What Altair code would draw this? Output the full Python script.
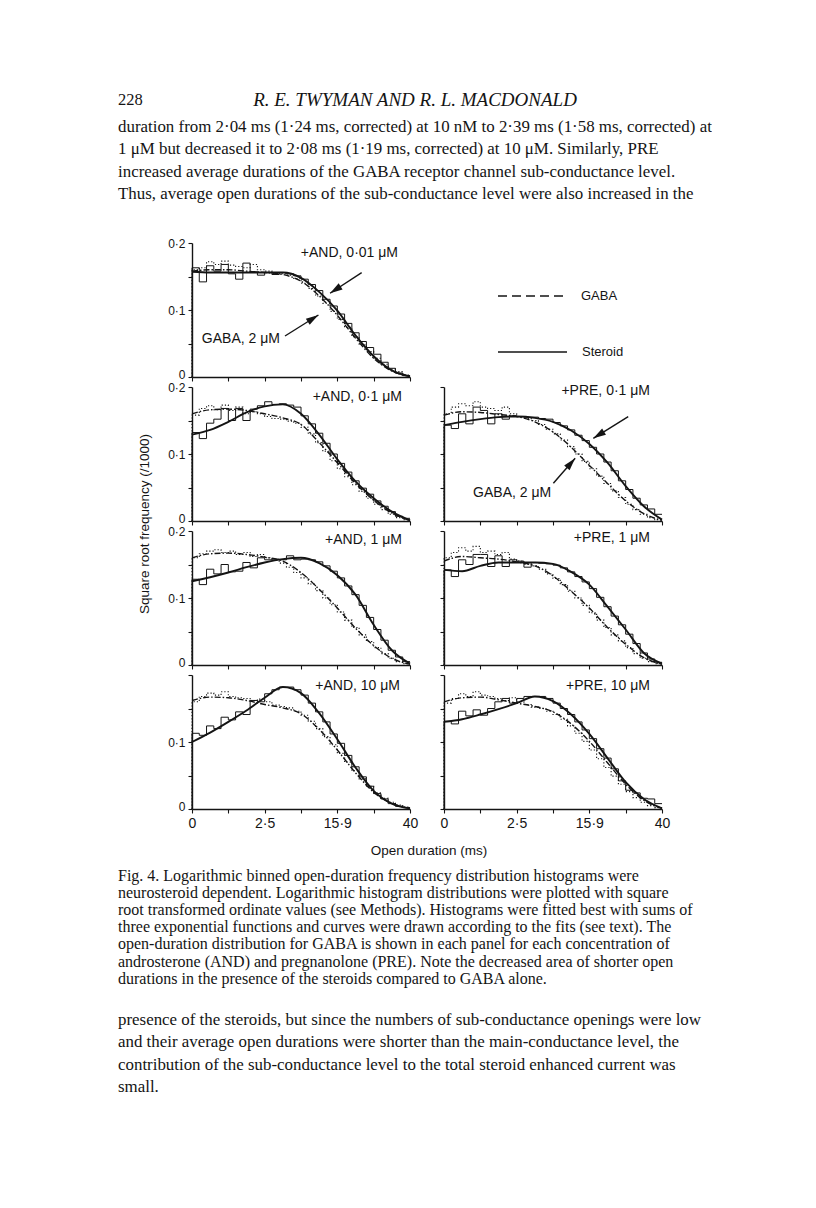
import math
import altair as alt
import pandas as pd

INK = "#141414"
SANS = "Liberation Sans"
SERIF = "Liberation Serif"

# ---------------- axis / bin positions (log-bin index units) ----------------
X_MAX = 6.0
X_TICKS = [0, 1, 2, 3, 4, 5, 6]
X_TICK_LABELS = ["0", "", "2·5", "", "15·9", "", "40"]
Y_TICKS = [0, 0.05, 0.1, 0.15, 0.2]
Y_TICK_LABELS = ["0", "", "0·1", "", "0·2"]
Y_TICK_LABELS_LAST = ["0", "", "0·1", "", ""]

U_FIT = [0, 0.5, 1, 1.5, 2, 2.5, 3, 3.5, 4, 4.5, 5, 5.5, 6]
BIN_LEFT = [0.0, 0.2, 0.4, 0.6, 0.8, 1.0, 1.2, 1.4, 1.6, 1.8,
            2.0, 2.2, 2.4, 2.6, 2.8, 3.0, 3.2, 3.4, 3.6, 3.8,
            4.0, 4.2, 4.4, 4.6, 4.8, 5.0, 5.2, 5.4, 5.6, 5.8]

# ---------------- +AND 0.01 uM ----------------
A1_STER_FIT = [0.157, 0.156, 0.156, 0.156, 0.156, 0.156, 0.148, 0.127, 0.099, 0.062, 0.031, 0.010, 0.001]
A1_GABA_FIT = [0.158, 0.160, 0.160, 0.158, 0.156, 0.153, 0.143, 0.121, 0.092, 0.058, 0.028, 0.009, 0.001]
A1_STER_HIST = [0.163, 0.142, 0.166, 0.158, 0.168, 0.154, 0.146, 0.170, 0.157, 0.152,
                0.156, 0.153, 0.156, 0.154, 0.151, 0.146, 0.138, 0.129, 0.116, 0.106,
                0.094, 0.080, 0.066, 0.053, 0.044, 0.034, 0.022, 0.013, 0.006, 0.002]
A1_GABA_HIST = [0.160, 0.163, 0.172, 0.168, 0.173, 0.167, 0.165, 0.163, 0.168, 0.160,
                0.158, 0.155, 0.154, 0.152, 0.147, 0.140, 0.132, 0.121, 0.110, 0.098,
                0.086, 0.074, 0.060, 0.048, 0.038, 0.028, 0.019, 0.012, 0.008, 0.003]

# ---------------- +AND 0.1 uM ----------------
A2_STER_FIT = [0.129, 0.136, 0.148, 0.162, 0.171, 0.174, 0.160, 0.129, 0.092, 0.059, 0.034, 0.014, 0.001]
A2_GABA_FIT = [0.160, 0.166, 0.167, 0.165, 0.160, 0.154, 0.144, 0.117, 0.087, 0.056, 0.031, 0.012, 0.001]
A2_STER_HIST = [0.132, 0.123, 0.146, 0.152, 0.168, 0.150, 0.168, 0.150, 0.167, 0.172,
                0.178, 0.174, 0.175, 0.173, 0.170, 0.157, 0.145, 0.131, 0.116, 0.100,
                0.086, 0.073, 0.060, 0.049, 0.040, 0.030, 0.022, 0.014, 0.007, 0.004]
A2_GABA_HIST = [0.158, 0.168, 0.172, 0.166, 0.173, 0.165, 0.170, 0.160, 0.163, 0.160,
                0.156, 0.153, 0.152, 0.149, 0.146, 0.140, 0.130, 0.117, 0.104, 0.090,
                0.078, 0.066, 0.054, 0.044, 0.034, 0.025, 0.017, 0.010, 0.005, 0.002]

# ---------------- +AND 1 uM ----------------
A3_STER_FIT = [0.125, 0.131, 0.138, 0.146, 0.153, 0.158, 0.160, 0.152, 0.134, 0.105, 0.060, 0.022, 0.002]
A3_GABA_FIT = [0.160, 0.166, 0.167, 0.165, 0.161, 0.155, 0.138, 0.113, 0.085, 0.055, 0.029, 0.010, 0.001]
A3_STER_HIST = [0.128, 0.120, 0.143, 0.136, 0.150, 0.139, 0.140, 0.153, 0.145, 0.160,
                0.157, 0.158, 0.157, 0.163, 0.157, 0.158, 0.157, 0.154, 0.148, 0.140,
                0.130, 0.118, 0.105, 0.089, 0.071, 0.053, 0.037, 0.022, 0.012, 0.005]
A3_GABA_HIST = [0.160, 0.166, 0.170, 0.172, 0.168, 0.170, 0.165, 0.168, 0.162, 0.165,
                0.160, 0.156, 0.152, 0.146, 0.138, 0.130, 0.121, 0.111, 0.100, 0.090,
                0.079, 0.067, 0.056, 0.045, 0.035, 0.026, 0.017, 0.010, 0.005, 0.002]

# ---------------- +AND 10 uM ----------------
A4_STER_FIT = [0.100, 0.114, 0.130, 0.147, 0.166, 0.182, 0.173, 0.143, 0.104, 0.062, 0.027, 0.008, 0.001]
A4_GABA_FIT = [0.162, 0.167, 0.166, 0.162, 0.156, 0.151, 0.142, 0.119, 0.088, 0.054, 0.025, 0.008, 0.001]
A4_STER_HIST = [0.113, 0.110, 0.124, 0.120, 0.137, 0.133, 0.145, 0.141, 0.162, 0.160,
                0.172, 0.178, 0.182, 0.182, 0.178, 0.170, 0.158, 0.145, 0.130, 0.112,
                0.098, 0.080, 0.063, 0.048, 0.034, 0.023, 0.015, 0.008, 0.004, 0.002]
A4_GABA_HIST = [0.160, 0.168, 0.173, 0.170, 0.175, 0.168, 0.166, 0.165, 0.162, 0.164,
                0.160, 0.155, 0.153, 0.151, 0.146, 0.140, 0.131, 0.120, 0.108, 0.096,
                0.083, 0.070, 0.057, 0.045, 0.034, 0.024, 0.016, 0.010, 0.006, 0.003]

# ---------------- +PRE 0.1 uM ----------------
P2_STER_FIT = [0.143, 0.148, 0.152, 0.155, 0.156, 0.154, 0.148, 0.135, 0.115, 0.087, 0.052, 0.022, 0.002]
P2_GABA_FIT = [0.158, 0.163, 0.162, 0.159, 0.156, 0.148, 0.133, 0.110, 0.083, 0.056, 0.030, 0.011, 0.001]
P2_STER_HIST = [0.143, 0.138, 0.160, 0.145, 0.170, 0.165, 0.145, 0.160, 0.152, 0.157,
                0.156, 0.155, 0.155, 0.153, 0.152, 0.147, 0.142, 0.136, 0.128, 0.120,
                0.110, 0.100, 0.088, 0.075, 0.060, 0.047, 0.034, 0.024, 0.018, 0.010]
P2_GABA_HIST = [0.160, 0.170, 0.175, 0.172, 0.178, 0.170, 0.168, 0.165, 0.170, 0.160,
                0.156, 0.153, 0.150, 0.144, 0.137, 0.130, 0.121, 0.111, 0.100, 0.089,
                0.078, 0.067, 0.056, 0.045, 0.035, 0.025, 0.017, 0.010, 0.005, 0.002]

# ---------------- +PRE 1 uM ----------------
P3_STER_FIT = [0.142, 0.140, 0.148, 0.153, 0.153, 0.153, 0.151, 0.139, 0.120, 0.087, 0.053, 0.018, 0.002]
P3_GABA_FIT = [0.155, 0.162, 0.160, 0.158, 0.154, 0.148, 0.133, 0.110, 0.085, 0.056, 0.031, 0.011, 0.001]
P3_STER_HIST = [0.142, 0.132, 0.157, 0.150, 0.165, 0.165, 0.147, 0.163, 0.147, 0.157,
                0.155, 0.146, 0.153, 0.152, 0.151, 0.149, 0.145, 0.139, 0.132, 0.124,
                0.114, 0.101, 0.087, 0.073, 0.060, 0.046, 0.032, 0.018, 0.009, 0.004]
P3_GABA_HIST = [0.160, 0.168, 0.175, 0.170, 0.177, 0.168, 0.170, 0.165, 0.168, 0.158,
                0.155, 0.150, 0.148, 0.143, 0.136, 0.129, 0.120, 0.110, 0.100, 0.089,
                0.078, 0.067, 0.056, 0.045, 0.036, 0.026, 0.017, 0.010, 0.005, 0.002]

# ---------------- +PRE 10 uM ----------------
P4_STER_FIT = [0.130, 0.134, 0.141, 0.149, 0.158, 0.168, 0.161, 0.141, 0.112, 0.076, 0.040, 0.015, 0.001]
P4_GABA_FIT = [0.160, 0.166, 0.167, 0.163, 0.158, 0.153, 0.145, 0.127, 0.101, 0.069, 0.037, 0.013, 0.001]
P4_STER_HIST = [0.131, 0.127, 0.146, 0.139, 0.148, 0.140, 0.150, 0.160, 0.165, 0.158,
                0.165, 0.168, 0.168, 0.168, 0.165, 0.158, 0.150, 0.141, 0.130, 0.118,
                0.105, 0.090, 0.076, 0.060, 0.042, 0.028, 0.024, 0.016, 0.015, 0.008]
P4_GABA_HIST = [0.158, 0.165, 0.172, 0.168, 0.175, 0.170, 0.168, 0.165, 0.162, 0.166,
                0.160, 0.156, 0.152, 0.150, 0.146, 0.141, 0.134, 0.124, 0.113, 0.101,
                0.088, 0.075, 0.062, 0.049, 0.037, 0.026, 0.017, 0.010, 0.005, 0.002]

# ---------------- annotation arrows (data units) ----------------
A1_ARROW_U0 = [4.67, 2.56]
A1_ARROW_V0 = [0.1557, 0.0612]
A1_ARROW_U1 = [3.80, 3.48]
A1_ARROW_V1 = [0.125, 0.0925]
A1_NOTE_UV = [0.27, 0.0563]
P2_ARROW_U0 = [5.07, 3.01]
P2_ARROW_V0 = [0.1557, 0.0563]
P2_ARROW_U1 = [4.11, 3.61]
P2_ARROW_V1 = [0.1234, 0.0936]
P2_NOTE_UV = [0.80, 0.0413]

# ---------------- text ----------------
PAGE_NUMBER = "228"
RUNNING_HEAD = "R. E. TWYMAN AND R. L. MACDONALD"
BODY_TOP = [
    "duration from 2·04 ms (1·24 ms, corrected) at 10 nM to 2·39 ms (1·58 ms, corrected) at",
    "1 μM but decreased it to 2·08 ms (1·19 ms, corrected) at 10 μM. Similarly, PRE",
    "increased average durations of the GABA receptor channel sub-conductance level.",
    "Thus, average open durations of the sub-conductance level were also increased in the",
]
CAPTION = [
    "Fig. 4. Logarithmic binned open-duration frequency distribution histograms were",
    "neurosteroid dependent. Logarithmic histogram distributions were plotted with square",
    "root transformed ordinate values (see Methods). Histograms were fitted best with sums of",
    "three exponential functions and curves were drawn according to the fits (see text). The",
    "open-duration distribution for GABA is shown in each panel for each concentration of",
    "androsterone (AND) and pregnanolone (PRE). Note the decreased area of shorter open",
    "durations in the presence of the steroids compared to GABA alone.",
]
BODY_BOTTOM = [
    "presence of the steroids, but since the numbers of sub-conductance openings were low",
    "and their average open durations were shorter than the main-conductance level, the",
    "contribution of the sub-conductance level to the total steroid enhanced current was",
    "small.",
]
Y_TITLE = "Square root frequency (/1000)"
X_TITLE = "Open duration (ms)"
LEGEND_LABELS = ["GABA", "Steroid"]

W, H = 218, 134
XS = alt.Scale(domain=[0, X_MAX], nice=False, zero=False)
YS = alt.Scale(domain=[0, 0.2], nice=False, zero=False)
DUMMY = pd.DataFrame({"a": [0]})


def label_expr(labels, factor):
    arr = "[" + ",".join("'" + s + "'" for s in labels) + "]"
    return f"{arr}[round(datum.value * {factor})]"


def x_axis(show):
    if show:
        return alt.Axis(values=X_TICKS, title=None, labelExpr=label_expr(X_TICK_LABELS, 1),
                        labelFlush=False, labelOverlap=False, labelFontSize=14,
                        labelPadding=3, grid=False)
    return alt.Axis(values=X_TICKS, title=None, labels=False, grid=False)


def y_axis(labels):
    if labels is None:
        return alt.Axis(values=Y_TICKS, title=None, labels=False, grid=False)
    return alt.Axis(values=Y_TICKS, title=None, labelExpr=label_expr(labels, 20),
                    labelFlush=False, labelOverlap=False, labelFontSize=12,
                    labelPadding=3, grid=False,
                    labelOffset={"condition": {"test": "datum.value == 0", "value": -2.5},
                                 "value": 0})


def hist_frame(vals):
    us = [BIN_LEFT[0]] + BIN_LEFT + [X_MAX]
    vs = [0.0] + list(vals) + [vals[-1]]
    return pd.DataFrame({"u": us, "v": vs, "k": list(range(len(us)))})


def arrows(u0, v0, u1, v1, xa, ya):
    px_u = W / X_MAX
    px_v = H / 0.2
    angs = []
    for a, b, c, d in zip(u0, v0, u1, v1):
        dx = (c - a) * px_u
        dy = -(d - b) * px_v
        angs.append(math.degrees(math.atan2(dx, -dy)) % 360)
    df = pd.DataFrame({"u0": u0, "v0": v0, "u1": u1, "v1": v1, "ang": angs})
    line = alt.Chart(df).mark_rule(color=INK, strokeWidth=1.4).encode(
        x=alt.X("u0:Q", scale=XS, axis=xa), y=alt.Y("v0:Q", scale=YS, axis=ya),
        x2="u1:Q", y2="v1:Q")
    head = alt.Chart(df).mark_point(shape="M0,0L-0.6,2.1L0.6,2.1Z", filled=True, size=144,
                                    color=INK, opacity=1, strokeWidth=0).encode(
        x=alt.X("u1:Q", scale=XS, axis=xa), y=alt.Y("v1:Q", scale=YS, axis=ya),
        angle=alt.Angle("ang:Q", scale=None))
    return [line, head]


def note(uv, xa, ya):
    df = pd.DataFrame({"u": [uv[0]], "v": [uv[1]]})
    return alt.Chart(df).mark_text(text="GABA, 2 μM", align="left", baseline="middle",
                                   font=SANS, fontSize=14, color=INK).encode(
        x=alt.X("u:Q", scale=XS, axis=xa), y=alt.Y("v:Q", scale=YS, axis=ya))


def ptext(text, x, y, size=13, align="left", font=SANS, angle=None, style=None, lh=None):
    kw = dict(text=text, align=align, baseline="middle", font=font, fontSize=size, color=INK)
    if angle is not None:
        kw["angle"] = angle
    if style is not None:
        kw["fontStyle"] = style
    if lh is not None:
        kw["lineHeight"] = lh
    return alt.Chart(DUMMY).mark_text(**kw).encode(x=alt.value(x), y=alt.value(y))


def panel(ster_hist, gaba_hist, ster_fit, gaba_fit, label, lab_x, lab_y,
          show_x, ylabels, extras=None):
    xa = x_axis(show_x)
    ya = y_axis(ylabels)
    X = alt.X("u:Q", scale=XS, axis=xa)
    Y = alt.Y("v:Q", scale=YS, axis=ya)
    gh = alt.Chart(hist_frame(gaba_hist)).mark_line(
        interpolate="step-after", strokeDash=[1.2, 2], strokeWidth=1.1, color=INK
    ).encode(x=X, y=Y, order=alt.Order("k:Q"))
    sh = alt.Chart(hist_frame(ster_hist)).mark_line(
        interpolate="step-after", strokeWidth=1.0, color=INK
    ).encode(x=X, y=Y, order=alt.Order("k:Q"))
    gf = alt.Chart(pd.DataFrame({"u": U_FIT, "v": gaba_fit})).mark_line(
        interpolate="monotone", strokeDash=[6, 2, 1.5, 2], strokeWidth=1.4, color=INK
    ).encode(x=X, y=Y)
    sf = alt.Chart(pd.DataFrame({"u": U_FIT, "v": ster_fit})).mark_line(
        interpolate="monotone", strokeWidth=1.9, color=INK
    ).encode(x=X, y=Y)
    lab = ptext(label, lab_x, lab_y, size=14, align="right")
    layers = [gh, sh, gf, sf, lab]
    if extras:
        layers += extras(xa, ya)
    return alt.layer(*layers).properties(width=W, height=H)


def a1_extras(xa, ya):
    out = arrows(A1_ARROW_U0, A1_ARROW_V0, A1_ARROW_U1, A1_ARROW_V1, xa, ya)
    out.append(note(A1_NOTE_UV, xa, ya))
    # page text placed relative to this panel (origin at page 192, 243)
    anchor = alt.Chart(DUMMY).mark_point(size=1, opacity=0, filled=True, strokeWidth=0).encode(
        x=alt.value(-183.5), y=alt.value(-234.5))
    out.append(anchor)
    out.append(ptext(PAGE_NUMBER, -74, -143, size=16.5, font=SERIF))
    out.append(ptext(RUNNING_HEAD, 223, -143, size=19, font=SERIF, align="center", style="italic"))
    out.append(ptext(BODY_TOP, -74, -116, size=16.9, font=SERIF, lh=22.3))
    out.append(ptext(CAPTION, -74, 633, size=16.0, font=SERIF, lh=17.1))
    out.append(ptext(BODY_BOTTOM, -74, 777, size=16.9, font=SERIF, lh=22.3))
    return out


def p2_extras(xa, ya):
    out = arrows(P2_ARROW_U0, P2_ARROW_V0, P2_ARROW_U1, P2_ARROW_V1, xa, ya)
    out.append(note(P2_NOTE_UV, xa, ya))
    return out


def a2_extras(xa, ya):
    return [ptext(Y_TITLE, -47, 137, size=13.5, align="center", angle=270)]


def a4_extras(xa, ya):
    return [ptext(X_TITLE, 237, 176, size=13.5, align="center")]


legend = alt.layer(
    alt.Chart(DUMMY).mark_rule(color=INK, strokeWidth=1.5, strokeDash=[9, 5]).encode(
        x=alt.value(54), x2=alt.value(123), y=alt.value(53)),
    alt.Chart(DUMMY).mark_rule(color=INK, strokeWidth=1.5).encode(
        x=alt.value(54), x2=alt.value(123), y=alt.value(109)),
    ptext(LEGEND_LABELS[0], 137, 53, size=13),
    ptext(LEGEND_LABELS[1], 138, 109, size=13),
).properties(width=W, height=H)

A1 = panel(A1_STER_HIST, A1_GABA_HIST, A1_STER_FIT, A1_GABA_FIT, "+AND, 0·01 μM", 206, 10,
           False, Y_TICK_LABELS, a1_extras)
A2 = panel(A2_STER_HIST, A2_GABA_HIST, A2_STER_FIT, A2_GABA_FIT, "+AND, 0·1 μM", 210, 10,
           False, Y_TICK_LABELS, a2_extras)
A3 = panel(A3_STER_HIST, A3_GABA_HIST, A3_STER_FIT, A3_GABA_FIT, "+AND, 1 μM", 210, 9,
           False, Y_TICK_LABELS, None)
A4 = panel(A4_STER_HIST, A4_GABA_HIST, A4_STER_FIT, A4_GABA_FIT, "+AND, 10 μM", 208, 11,
           True, Y_TICK_LABELS_LAST, a4_extras)
P2 = panel(P2_STER_HIST, P2_GABA_HIST, P2_STER_FIT, P2_GABA_FIT, "+PRE, 0·1 μM", 206, 4,
           False, None, p2_extras)
P3 = panel(P3_STER_HIST, P3_GABA_HIST, P3_STER_FIT, P3_GABA_FIT, "+PRE, 1 μM", 206, 7,
           False, None, None)
P4 = panel(P4_STER_HIST, P4_GABA_HIST, P4_STER_FIT, P4_GABA_FIT, "+PRE, 10 μM", 206, 11,
           True, None, None)

chart = alt.concat(
    A1, legend, A2, P2, A3, P3, A4, P4,
    columns=2, spacing={"row": 10, "column": 34}, bounds="flush",
).properties(
    padding=0, background="white"
).configure_view(
    stroke=None
).configure_axis(
    domainColor=INK, tickColor=INK, labelColor=INK, labelFont=SANS,
    domainWidth=1.4, tickWidth=1.1, tickSize=4, grid=False,
)

chart.save("out.html", embed_options={"renderer": "svg", "actions": False})
